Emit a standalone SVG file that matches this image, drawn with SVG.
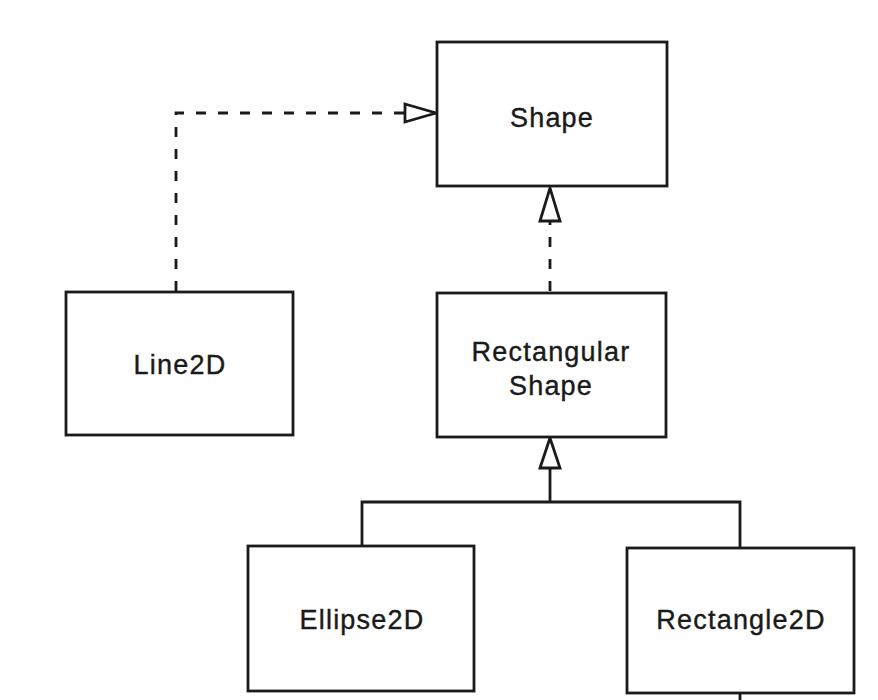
<svg xmlns="http://www.w3.org/2000/svg" width="878" height="700" viewBox="0 0 878 700">
<style>
.box{fill:#fff;stroke:#1a1a1a;stroke-width:2.8}
.lbl{font-family:"Liberation Sans",Arial,sans-serif;font-size:27px;fill:#1a1a1a;stroke:#1a1a1a;stroke-width:0.4;text-anchor:middle;letter-spacing:1.2px}
.dash{fill:none;stroke:#1a1a1a;stroke-width:2.8;stroke-dasharray:10 12}
.solid{fill:none;stroke:#1a1a1a;stroke-width:2.8}
.head{fill:#fff;stroke:#1a1a1a;stroke-width:2.8;stroke-linejoin:miter}
</style>
<rect width="878" height="700" fill="#fff"/>
<g id="connectors">
<path class="dash" d="M176,291 V113 H405"/>
<polygon class="head" points="405,104 436,113 405,122"/>
<path class="dash" d="M550,291 V221"/>
<polygon class="head" points="540,221 550,188 560,221"/>
<path class="solid" d="M550,502 V468 M362,546 V502 H740 V547 M740,693 V700"/>
<polygon class="head" points="540,468 550,438 560,468"/>
</g>
<g id="shape">
<rect class="box" x="437" y="42" width="230" height="144"/>
<text class="lbl" x="552" y="127">Shape</text>
</g>
<g id="line2d">
<rect class="box" x="66" y="292" width="227" height="143"/>
<text class="lbl" x="180" y="374">Line2D</text>
</g>
<g id="rectangularshape">
<rect class="box" x="437" y="293" width="229" height="144"/>
<text class="lbl" x="551" y="361">Rectangular</text>
<text class="lbl" x="551" y="395">Shape</text>
</g>
<g id="ellipse2d">
<rect class="box" x="248" y="546" width="226" height="145"/>
<text class="lbl" x="362" y="629">Ellipse2D</text>
</g>
<g id="rectangle2d">
<rect class="box" x="627" y="548" width="227" height="145"/>
<text class="lbl" x="741" y="629">Rectangle2D</text>
</g>
</svg>
